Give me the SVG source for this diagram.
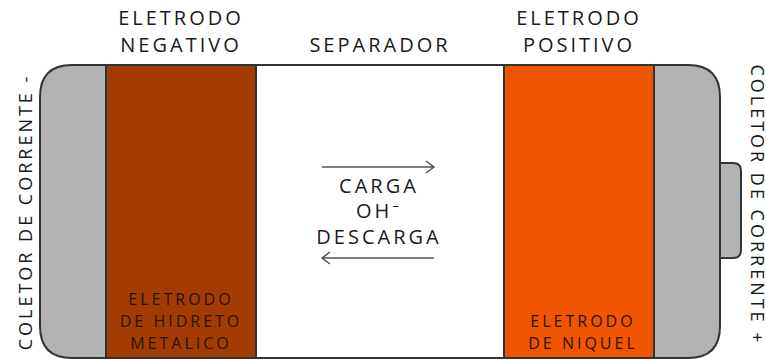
<svg xmlns="http://www.w3.org/2000/svg" width="766" height="361" viewBox="0 0 766 361">
<style>
.t{font-family:"Open Sans","Noto Sans","Liberation Sans",sans-serif;fill:#1a1a1a;letter-spacing:3px;text-anchor:middle}
.h{font-size:20px}
.s{font-size:16px;fill:#2a1208}
.v{font-size:18px;letter-spacing:3px}
.ln{stroke:#333;stroke-width:2;fill:none}
.ar{stroke:#555;stroke-width:1.5;fill:none}
</style>
<rect width="766" height="361" fill="#fff"/>
<g id="tab"><path d="M712,163 H733 Q741,163 741,171 V250 Q741,258 733,258 H712 Z" fill="#b3b3b3" stroke="#333" stroke-width="2"/></g>
<g id="collector-neg"><path d="M106,65 H72 Q40,65 40,97 V326 Q40,358 72,358 H106 Z" fill="#b3b3b3"/></g>
<g id="collector-pos"><path d="M654,65 H688 Q720,65 720,97 V326 Q720,358 688,358 H654 Z" fill="#b3b3b3"/></g>
<g id="neg-electrode"><rect x="106" y="65" width="150" height="293" fill="#a33c00"/>
<text class="t s" x="181" y="305">ELETRODO</text>
<text class="t s" x="181" y="327">DE HIDRETO</text>
<text class="t s" x="181" y="349">METALICO</text></g>
<g id="separator"><rect x="256" y="65" width="248" height="293" fill="#fff"/></g>
<g id="pos-electrode"><rect x="504" y="65" width="150" height="293" fill="#f05600"/>
<text class="t s" x="583" y="327">ELETRODO</text>
<text class="t s" x="583" y="349">DE NIQUEL</text></g>
<g id="outline">
<path class="ln" d="M72,65 H688 Q720,65 720,97 V326 Q720,358 688,358 H72 Q40,358 40,326 V97 Q40,65 72,65 Z"/>
<line class="ln" x1="106" y1="65" x2="106" y2="358"/>
<line class="ln" x1="256" y1="65" x2="256" y2="358"/>
<line class="ln" x1="504" y1="65" x2="504" y2="358"/>
<line class="ln" x1="654" y1="65" x2="654" y2="358"/>
</g>
<g id="labels">
<text class="t h" x="181" y="25">ELETRODO</text>
<text class="t h" x="181" y="52">NEGATIVO</text>
<text class="t h" x="380" y="52">SEPARADOR</text>
<text class="t h" x="579" y="25">ELETRODO</text>
<text class="t h" x="579" y="52">POSITIVO</text>
<text class="t v" transform="translate(32,212) rotate(-90)">COLETOR DE CORRENTE -</text>
<text class="t v" transform="translate(751,205) rotate(90)">COLETOR DE CORRENTE +</text>
</g>
<g id="connectors">
<path class="ar" d="M322,167 H434 M426,161 L434,167 L426,173"/>
<path class="ar" d="M434,258 H322 M330,252 L322,258 L330,264"/>
</g>
<g id="center-text">
<text class="t h" x="379" y="193">CARGA</text>
<text class="t h" x="379" y="218">OH⁻</text>
<text class="t h" x="379" y="244">DESCARGA</text>
</g>
</svg>
